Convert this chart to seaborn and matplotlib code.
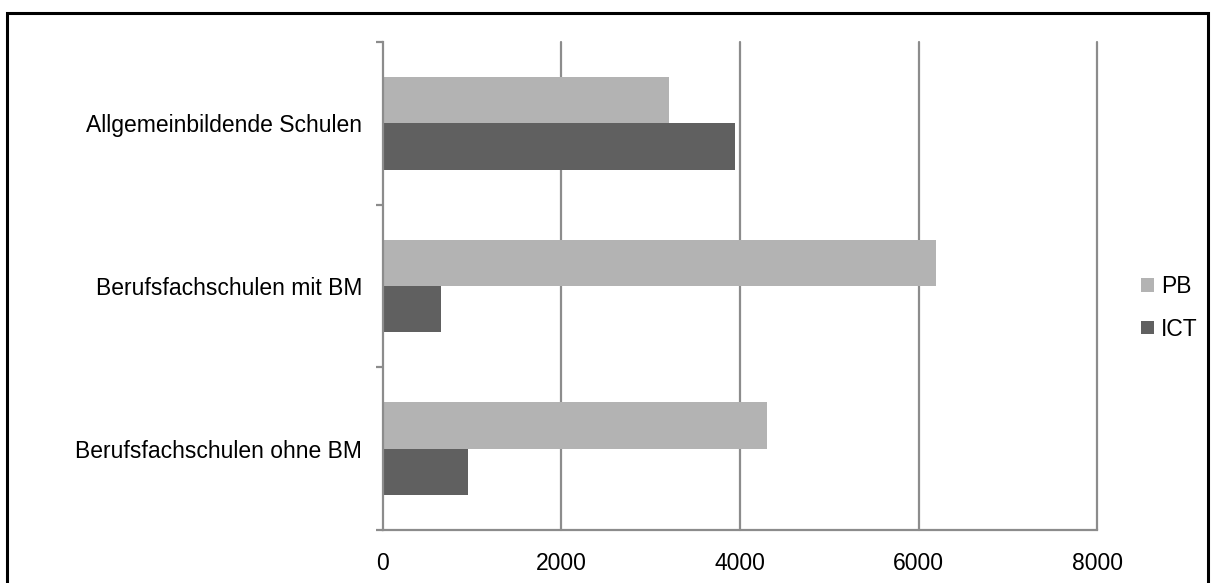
import matplotlib
matplotlib.use("Agg")
import matplotlib.pyplot as plt
import seaborn as sns
import pandas as pd
from matplotlib.patches import Rectangle

categories = ["Allgemeinbildende Schulen", "Berufsfachschulen mit BM", "Berufsfachschulen ohne BM"]
series_names = ["PB", "ICT"]
pb_values = [3200, 6200, 4300]
ict_values = [3940, 650, 950]
x_ticks = [0, 2000, 4000, 6000, 8000]

df = pd.DataFrame({
    "cat": categories * 2,
    "series": [series_names[0]] * 3 + [series_names[1]] * 3,
    "value": pb_values + ict_values,
})

sns.set_theme(style="white")
plt.rcParams["font.family"] = ["Liberation Sans", "DejaVu Sans"]
plt.rcParams["text.color"] = "black"
plt.rcParams["xtick.color"] = "black"
plt.rcParams["ytick.color"] = "black"

fig = plt.figure(figsize=(12.13, 5.83), dpi=100)
ax = fig.add_axes([0.3157, 0.0909, 0.5887, 0.8371])

colors = {"PB": "#b3b3b3", "ICT": "#606060"}
sns.barplot(data=df, y="cat", x="value", hue="series", order=categories,
            hue_order=series_names, palette=colors, width=0.57, ax=ax,
            edgecolor="none", linewidth=0, saturation=1, orient="h", legend=True)

ax.set_xlim(0, 8000)
ax.set_ylim(2.5, -0.5)
ax.set_xticks(x_ticks)
ax.set_xticklabels([str(t) for t in x_ticks], fontsize=16.5, color="black")
ax.set_yticks([0, 1, 2])
ax.set_yticklabels(categories, fontsize=16.5, color="black")
ax.tick_params(axis="y", which="major", length=0, pad=15)
ax.tick_params(axis="x", which="major", length=0, pad=16)
ax.set_xlabel("")
ax.set_ylabel("")

for x in x_ticks[1:]:
    ax.axvline(x, color="#8c8c8c", lw=1.6, zorder=0, clip_on=False)

for s in ["top", "right"]:
    ax.spines[s].set_visible(False)
for s in ["left", "bottom"]:
    ax.spines[s].set_color("#8c8c8c")
    ax.spines[s].set_linewidth(1.6)

ax.set_yticks([-0.5, 0.5, 1.5, 2.5], minor=True)
ax.tick_params(axis="y", which="minor", left=True, length=5, direction="out",
               color="#8c8c8c", width=1.6)
ax.set_xticks(x_ticks, minor=True)
ax.tick_params(axis="x", which="minor", bottom=True, length=5, direction="out",
               color="#8c8c8c", width=1.6)

leg = ax.legend(loc="center left", bbox_to_anchor=(1.033, 0.455), frameon=False,
                fontsize=16.5, handlelength=0.55, handleheight=0.55, handletextpad=0.3,
                labelspacing=0.85)
for t in leg.get_texts():
    t.set_color("black")

fig.patches.append(Rectangle((0.006, -0.05), 0.99, 1.027, transform=fig.transFigure,
                             fill=False, edgecolor="black", linewidth=2.2))

fig.savefig("out.png", dpi=100)
